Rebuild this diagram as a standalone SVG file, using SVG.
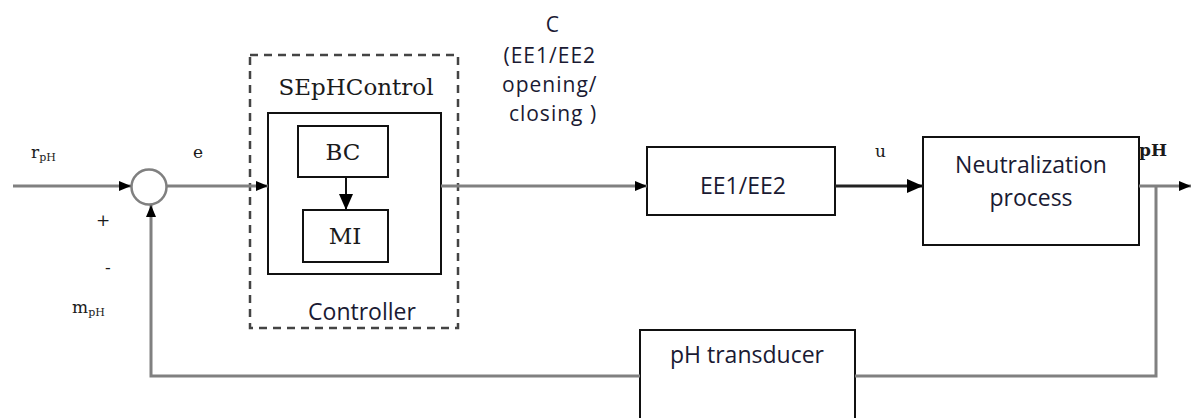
<svg xmlns="http://www.w3.org/2000/svg" width="1191" height="418" viewBox="0 0 1191 418">
  <defs>
    <marker id="arrow" markerWidth="12" markerHeight="10" refX="12" refY="5" orient="auto" markerUnits="userSpaceOnUse">
      <path d="M0,0 L12,5 L0,10 Z" fill="#000"/>
    </marker>
    <marker id="arrowBig" markerWidth="16" markerHeight="14" refX="16" refY="7" orient="auto" markerUnits="userSpaceOnUse">
      <path d="M0,0 L16,7 L0,14 Z" fill="#000"/>
    </marker>
  </defs>
  <style>
    .box { fill: #fff; stroke: #111; stroke-width: 2; }
    .wire { fill: none; stroke: #808080; stroke-width: 3; }
    .wireDark { fill: none; stroke: #222; stroke-width: 3; }
    .link { fill: none; stroke: #111; stroke-width: 2; }
    .sans { font-family: "Open Sans", "DejaVu Sans", sans-serif; font-size: 23px; fill: #1a1a33; }
    .note { font-size: 21px; letter-spacing: 1px; }
    .serif { font-family: "DejaVu Serif", "Liberation Serif", serif; fill: #1a1a1a; }
    .big { font-size: 23px; }
    .lbl { font-size: 17px; }
    .sub { font-size: 11px; }
  </style>

  <!-- summing junction -->
  <g id="sum">
    <circle cx="149" cy="187" r="17.5" fill="#fff" stroke="#808080" stroke-width="2.5"/>
  </g>

  <!-- controller: dashed outline with SEpHControl block -->
  <g id="controller">
    <rect x="250" y="55" width="208" height="273" fill="none" stroke="#444" stroke-width="2.5" stroke-dasharray="8,6"/>
    <text class="serif big" x="356" y="95" text-anchor="middle">SEpHControl</text>
    <rect class="box" x="268" y="113" width="173" height="161"/>
    <text class="sans" x="362" y="320" text-anchor="middle">Controller</text>
  </g>

  <g id="bc">
    <rect class="box" x="298" y="126" width="90" height="51"/>
    <text class="serif big" x="343" y="160" text-anchor="middle">BC</text>
  </g>

  <g id="mi">
    <rect class="box" x="303" y="210" width="85" height="52"/>
    <text class="serif big" x="345" y="244" text-anchor="middle">MI</text>
  </g>

  <g id="ee">
    <rect class="box" x="647" y="147" width="188" height="68"/>
    <text class="sans" x="743" y="194" text-anchor="middle">EE1/EE2</text>
  </g>

  <g id="neutralization">
    <rect class="box" x="923" y="137" width="216" height="108"/>
    <text class="sans" x="1031" y="173" text-anchor="middle">Neutralization</text>
    <text class="sans" x="1031" y="206" text-anchor="middle">process</text>
  </g>

  <g id="transducer">
    <rect class="box" x="640" y="330" width="215" height="95"/>
    <text class="sans" x="747" y="363" text-anchor="middle">pH transducer</text>
  </g>

  <!-- connectors -->
  <g id="connectors">
    <line class="wire" x1="13" y1="186" x2="131" y2="186" marker-end="url(#arrow)"/>
    <line class="wire" x1="167" y1="186" x2="268" y2="186" marker-end="url(#arrow)"/>
    <line class="wire" x1="441" y1="186" x2="647" y2="186" marker-end="url(#arrow)"/>
    <line class="wireDark" x1="835" y1="186" x2="923" y2="186" marker-end="url(#arrowBig)"/>
    <line class="wire" x1="1139" y1="186" x2="1191" y2="186" marker-end="url(#arrow)"/>
    <polyline class="wire" points="1156,186 1156,376 855,376"/>
    <polyline class="wire" points="640,376 151,376 151,205" marker-end="url(#arrow)"/>
    <line class="link" x1="346" y1="177" x2="346" y2="210" marker-end="url(#arrowBig)"/>
  </g>

  <!-- signal labels -->
  <g id="labels">
    <text class="sans note" text-anchor="middle">
      <tspan x="556" y="32">C</tspan>
      <tspan x="553" y="63">(EE1/EE2</tspan>
      <tspan x="553" y="92">opening/</tspan>
      <tspan x="553" y="121">closing )</tspan>
    </text>

    <text class="serif lbl" x="31" y="158">r<tspan class="sub" dy="3">pH</tspan></text>
    <text class="serif lbl" x="193" y="158">e</text>
    <text class="serif lbl" x="96" y="226">+</text>
    <text class="serif lbl" x="105" y="273">-</text>
    <text class="serif lbl" x="72" y="313">m<tspan class="sub" dy="3">pH</tspan></text>
    <text class="serif lbl" x="875" y="157">u</text>
    <text class="serif lbl" x="1139" y="156" font-weight="bold">pH</text>
  </g>
</svg>
